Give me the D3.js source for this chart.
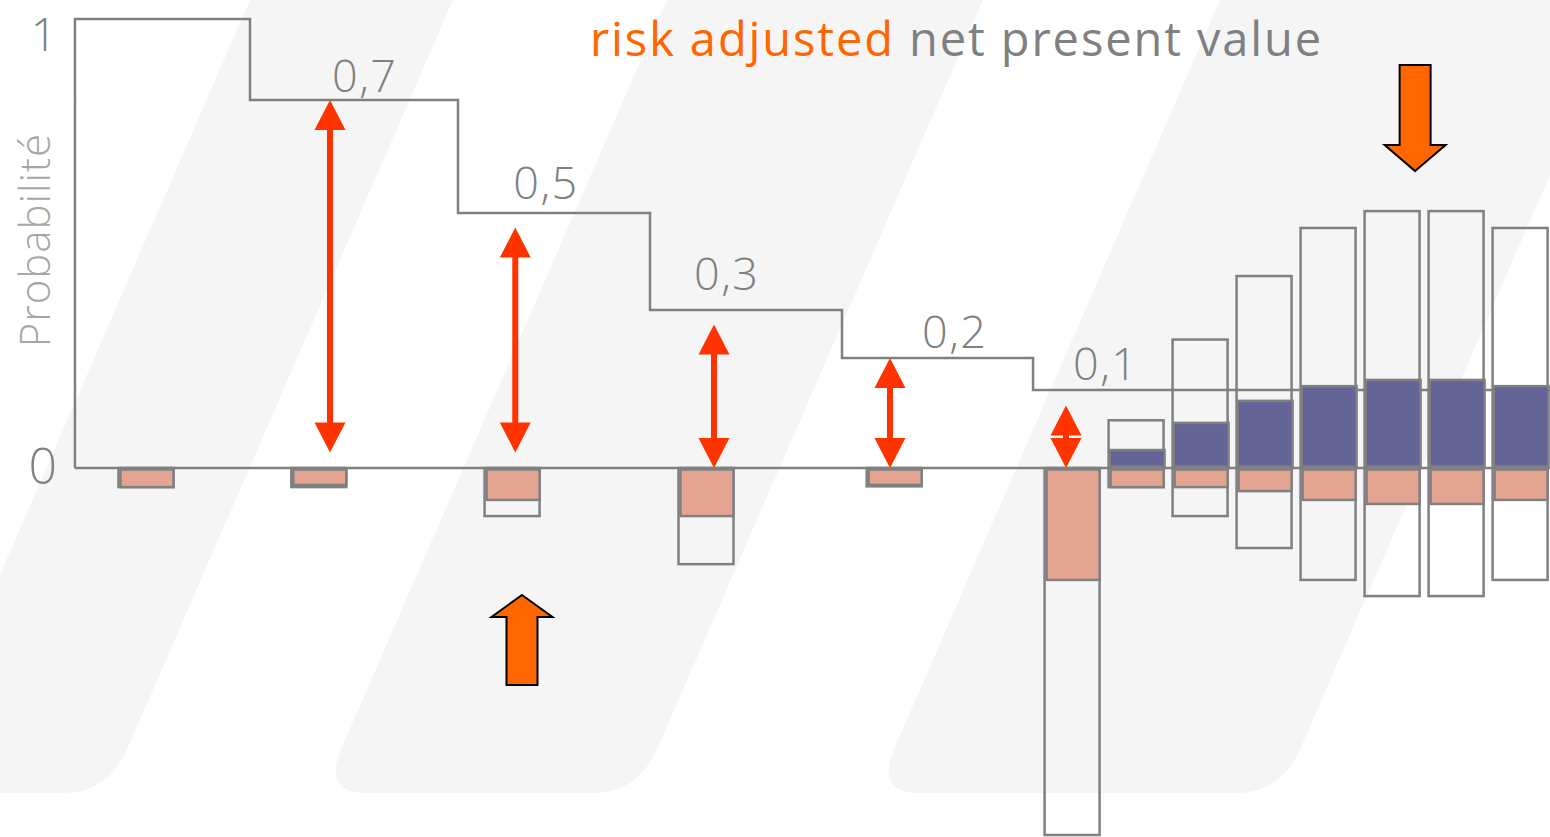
<!DOCTYPE html>
<html>
<head>
<meta charset="utf-8">
<script src="https://cdn.jsdelivr.net/npm/d3@7"></script>
<style>
  body { margin: 0; background: #fff; }
  svg { display: block; }
  text { font-family: "Open Sans", "DejaVu Sans", sans-serif; }
</style>
</head>
<body>
<svg id="chart" width="1550" height="837"></svg>
<script>
// ---- Development phases: start year of each phase and its probability of success
const phaseStart = [-1.11, 1.625, 4.875, 7.875, 10.875, 13.86];
const phaseEnd = 21.94;
const phaseProb = [1, 0.7, 0.5, 0.3, 0.2, 0.1];
const probLabels = ["0,7", "0,5", "0,3", "0,2", "0,1"];

// ---- Probability axis
const axisTicks = [0, 1];
const axisTickLabels = ["0", "1"];

// ---- Yearly cash-flow columns
const year    = [0, 2.7, 5.72, 8.75, 11.69, 14.47, 15.47, 16.47, 17.47, 18.47, 19.47, 20.47, 21.47];
const fullIn  = [0, 0, 0, 0, 0, 0, 13, 35, 52.3, 65.4, 70, 70, 65.4];            // unadjusted revenues
const fullOut = [-5.2, -5.2, -13.1, -26.2, -5, -100, -5.2, -13.1, -21.8, -30.5, -34.9, -34.9, -30.5]; // unadjusted costs
const adjIn   = [0, 0, 0, 0, 0, 0, 4.9, 12.3, 18.3, 22.3, 24, 24, 22.3];        // risk-adjusted revenues
const adjOut  = [-5.2, -4.6, -8.7, -13.1, -4.6, -30.5, -5.2, -5.2, -6.3, -8.7, -9.8, -9.8, -8.7]; // risk-adjusted costs

// ---- Probability arrows (year, top and bottom in probability units)
const arrowYear   = [2.875, 5.77, 8.875, 11.625, 14.375];
const arrowTop    = [0.7, 0.47, 0.27, 0.2, 0.08];
const arrowBottom = [0.02, 0.02, 0, 0, 0];

// ---- Big direction arrows (year, tip value in cash units, direction)
const blockYear = [5.875, 19.83];
const blockTip  = [-34.6, 80.9];
const blockDir  = ["up", "down"];

const W = 1550, H = 837;
const svg = d3.select("#chart");

const grey = "#808080";
const red = "#ff3300";
const orange = "#ff6600";
const salmon = "#e3a492";
const purple = "#646496";

// Scales
const x = d3.scaleLinear().domain([0, 1]).range([146, 210]);
const yProb = d3.scaleLinear()
  .domain([0, 0.1, 0.2, 0.3, 0.5, 0.7, 1])
  .range([468, 390, 358, 310, 213, 100, 19]);
const yCash = d3.scaleLinear().domain([0, 100]).range([468, 101]);
const barW = 55;

// Background diagonal bands
const bandTop = [[250, 453], [667, 983], [1220, 1626]];
const slope = 0.435, bandBottom = 793, r = 45;
const bands = svg.append("g");
bandTop.forEach(([xl, xr]) => {
  const p = d3.path();
  p.moveTo(xl + slope * 20, -20);
  p.lineTo(xr + slope * 20, -20);
  p.lineTo(xr - slope * (bandBottom - r), bandBottom - r);
  p.quadraticCurveTo(xr - slope * bandBottom, bandBottom, xr - slope * bandBottom - r, bandBottom);
  p.lineTo(xl - slope * bandBottom + r, bandBottom);
  p.quadraticCurveTo(xl - slope * bandBottom, bandBottom, xl - slope * (bandBottom - r), bandBottom - r);
  p.closePath();
  bands.append("path").attr("d", p.toString()).attr("fill", "#f5f5f5");
});

// Step line of phase probabilities (starts from the axis at 0)
const stepPts = [[phaseStart[0], 0]];
phaseProb.forEach((p, i) => {
  stepPts.push([phaseStart[i], p]);
  stepPts.push([i + 1 < phaseStart.length ? phaseStart[i + 1] : phaseEnd, p]);
});
svg.append("path")
  .attr("d", d3.line().x(d => x(d[0])).y(d => yProb(d[1]))(stepPts))
  .attr("fill", "none").attr("stroke", grey).attr("stroke-width", 2.5);

// Unadjusted cash-flow outlines
const cols = year.map((t, i) => ({ t, fi: fullIn[i], fo: fullOut[i], ai: adjIn[i], ao: adjOut[i] }));
svg.append("g").selectAll("rect").data(cols).join("rect")
  .attr("x", d => x(d.t) - barW / 2)
  .attr("y", d => yCash(d.fi))
  .attr("width", barW)
  .attr("height", d => yCash(d.fo) - yCash(d.fi))
  .attr("fill", "none").attr("stroke", grey).attr("stroke-width", 2.5);

// Risk-adjusted costs
svg.append("g").selectAll("rect").data(cols).join("rect")
  .attr("x", d => x(d.t) - barW / 2 + 2)
  .attr("y", yCash(0) + 1.5)
  .attr("width", barW - 2)
  .attr("height", d => yCash(d.ao) - yCash(0) - 1.5)
  .attr("fill", salmon).attr("stroke", grey).attr("stroke-width", 2.5);

// Risk-adjusted revenues
svg.append("g").selectAll("rect").data(cols.filter(d => d.ai > 0)).join("rect")
  .attr("x", d => x(d.t) - barW / 2 + 1)
  .attr("y", d => yCash(d.ai))
  .attr("width", barW)
  .attr("height", d => yCash(0) - 1.5 - yCash(d.ai))
  .attr("fill", purple).attr("stroke", grey).attr("stroke-width", 2.5);

// Zero line
svg.append("line")
  .attr("x1", x(phaseStart[0])).attr("x2", W)
  .attr("y1", yProb(0)).attr("y2", yProb(0))
  .attr("stroke", grey).attr("stroke-width", 2.5);

// Probability axis labels
const axis = svg.append("g").attr("transform", "translate(57,0)")
  .call(d3.axisLeft(yProb).tickValues(axisTicks).tickSize(0)
    .tickFormat((d, i) => axisTickLabels[i]));
axis.select(".domain").remove();
axis.selectAll("text")
  .attr("fill", grey).attr("font-size", d => d === 1 ? 46 : 50).attr("font-weight", 300)
  .attr("font-family", "'Open Sans', sans-serif")
  .attr("x", 0)
  .attr("dy", d => d === 1 ? "0.68em" : "0.3em");

svg.append("text")
  .attr("transform", "translate(50,240) rotate(-90)")
  .attr("text-anchor", "middle")
  .attr("font-size", 42).attr("font-weight", 300)
  .attr("letter-spacing", 1)
  .attr("fill", "#a6a6a6")
  .text("Probabilité");

// Probability labels on each phase
const labelNudge = [[2, -8], [-2, -14], [-20, -20], [32, -10], [7, -10]];
svg.append("g").selectAll("text").data(probLabels).join("text")
  .attr("x", (d, i) => x(arrowYear[i]) + labelNudge[i][0])
  .attr("y", (d, i) => yProb(phaseProb[i + 1]) + labelNudge[i][1])
  .attr("font-size", 45).attr("font-weight", 300)
  .attr("letter-spacing", 1.5)
  .attr("fill", grey)
  .text(d => d);

// Double-headed probability arrows
const headH = 30, headW = 31;
const arrows = svg.append("g");
arrowYear.forEach((t, i) => {
  const cx = x(t), y1 = yProb(arrowTop[i]), y2 = yProb(arrowBottom[i]);
  if (y2 - y1 > 2 * headH) {
    arrows.append("line")
      .attr("x1", cx).attr("x2", cx)
      .attr("y1", y1 + headH - 2).attr("y2", y2 - headH + 2)
      .attr("stroke", red).attr("stroke-width", 6);
  }
  const h = Math.min(headH, (y2 - y1) / 2 - 1);
  arrows.append("path")
    .attr("d", `M${cx},${y1} L${cx + headW / 2},${y1 + h} L${cx - headW / 2},${y1 + h} Z`)
    .attr("fill", red);
  arrows.append("path")
    .attr("d", `M${cx},${y2} L${cx + headW / 2},${y2 - h} L${cx - headW / 2},${y2 - h} Z`)
    .attr("fill", red);
});

// Orange block arrows
blockYear.forEach((t, i) => {
  const cx = x(t), ty = yCash(blockTip[i]);
  const s = blockDir[i] === "up" ? 1 : -1;
  const hw = 30.5, hh = blockDir[i] === "up" ? 22 : 26, sw = 15.5, len = blockDir[i] === "up" ? 90 : 106;
  const pts = [
    [cx, ty], [cx + hw, ty + s * hh], [cx + sw, ty + s * hh], [cx + sw, ty + s * len],
    [cx - sw, ty + s * len], [cx - sw, ty + s * hh], [cx - hw, ty + s * hh]
  ];
  svg.append("path")
    .attr("d", "M" + pts.map(p => p.join(",")).join("L") + "Z")
    .attr("fill", orange).attr("stroke", "#000").attr("stroke-width", 2)
    .attr("stroke-linejoin", "miter");
});

// Title
const title = svg.append("text")
  .attr("x", 590).attr("y", 56)
  .attr("font-size", 47)
  .attr("letter-spacing", 1.9);
title.append("tspan").attr("fill", orange).text("risk adjusted ");
title.append("tspan").attr("fill", grey).text("net present value");
</script>
</body>
</html>
